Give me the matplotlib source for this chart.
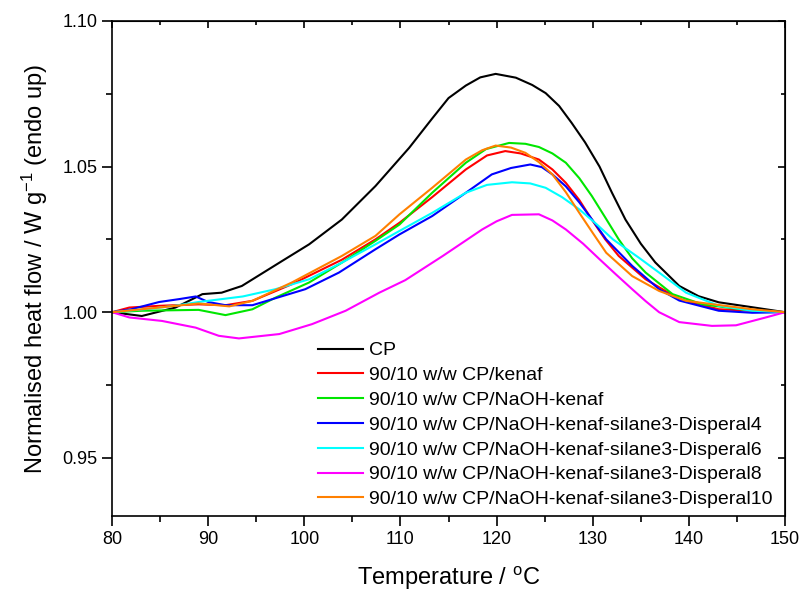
import matplotlib
matplotlib.use("Agg")
import matplotlib.pyplot as plt
from matplotlib.ticker import MultipleLocator

plt.rcParams['font.family'] = ['Liberation Sans', 'DejaVu Sans']
plt.rcParams['mathtext.default'] = 'regular'

# DSC curves (temperature in degC, normalised heat flow)
labels = ["CP",
          "90/10 w/w CP/kenaf",
          "90/10 w/w CP/NaOH-kenaf",
          "90/10 w/w CP/NaOH-kenaf-silane3-Disperal4",
          "90/10 w/w CP/NaOH-kenaf-silane3-Disperal6",
          "90/10 w/w CP/NaOH-kenaf-silane3-Disperal8",
          "90/10 w/w CP/NaOH-kenaf-silane3-Disperal10"]
colors = ["black", "#ff0000", "#00e600", "#0000ff", "#00ffff", "#ff00ff", "#ff8000"]

t_cp = [80, 83.1, 86.6, 89.4, 91.4, 93.5, 97.7, 100.5, 103.9, 107.4, 110.9, 113.3, 115, 116.8,
        118.3, 119.9, 122, 123.7, 125.1, 126.5, 127.8, 129.2, 130.7, 132, 133.4, 135, 136.5,
        139, 141, 143.1, 146.6, 150]
q_cp = [1.000, 0.9987, 1.0016, 1.0062, 1.0067, 1.009, 1.0176, 1.0233, 1.0318, 1.0433, 1.0564,
        1.0665, 1.0735, 1.0778, 1.0806, 1.0818, 1.0805, 1.078, 1.0752, 1.0708, 1.065, 1.0583,
        1.050, 1.041, 1.0318, 1.0235, 1.0171, 1.009, 1.0055, 1.0034, 1.0017, 1.000]

t_kenaf = [80, 81.8, 85, 89, 91.8, 94.6, 98.7, 103.9, 107.4, 109.9, 113.3, 116.8, 119,
           120.9, 122.5, 124.4, 125.8, 127.2, 128.6, 129.9, 131.3, 132.7, 135.5, 139, 143.1,
           146.6, 150]
q_kenaf = [1.000, 1.0016, 1.0022, 1.0027, 1.0024, 1.0039, 1.0096, 1.018, 1.025, 1.0307,
           1.0395, 1.049, 1.0538, 1.0553, 1.0545, 1.0524, 1.049, 1.0444, 1.0385, 1.0318,
           1.025, 1.0193, 1.0113, 1.0045, 1.001, 1.0005, 1.000]

t_naoh = [80, 83.1, 89, 91.8, 94.6, 97, 100.5, 103.9, 107.4, 109.9, 113.3, 116.8, 118.9,
          121.3, 123, 124.4, 125.8, 127.2, 128.6, 129.9, 131.3, 132.7, 134.1, 135.5, 138.3,
          141.4, 146.6, 150]
q_naoh = [1.000, 1.0005, 1.0008, 0.999, 1.001, 1.005, 1.0102, 1.017, 1.0245, 1.0301, 1.041,
          1.0513, 1.056, 1.0581, 1.0578, 1.0567, 1.0545, 1.0513, 1.046, 1.0399, 1.0325,
          1.025, 1.0185, 1.0136, 1.0062, 1.0027, 1.0005, 1.000]

t_d4 = [80, 82, 84.9, 87, 88.7, 90, 91.8, 94.6, 98.4, 100.1, 103.6, 107.4, 109.9, 113.3,
        116.8, 119.5, 121.5, 123.5, 124.7, 125.8, 127.2, 128.6, 130, 131.4, 134.1, 136.9,
        139, 143.1, 146.6, 150]
q_d4 = [1.000, 1.001, 1.0035, 1.0045, 1.0054, 1.0035, 1.0024, 1.0024, 1.0062, 1.0079, 1.0136,
        1.0216, 1.0267, 1.033, 1.041, 1.0473, 1.0495, 1.0507, 1.0498, 1.0473, 1.0432, 1.0377,
        1.0315, 1.025, 1.0159, 1.0079, 1.004, 1.0005, 0.9998, 1.000]

t_d6 = [80, 84, 86.5, 89, 93.6, 97, 100.5, 103.9, 107.4, 109.9, 113.3, 116.8, 119, 121.6,
        123.5, 125.1, 126.8, 128.6, 130.4, 132.1, 134.8, 136.9, 139.7, 143.1, 146.6, 150]
q_d6 = [1.000, 1.0012, 1.0022, 1.0035, 1.0054, 1.0079, 1.0113, 1.017, 1.0233, 1.0279, 1.0341,
        1.041, 1.0437, 1.0446, 1.0442, 1.0427, 1.0395, 1.0353, 1.0302, 1.025, 1.0187, 1.0136,
        1.0067, 1.0022, 1.0005, 1.000]

t_d8 = [80, 81.8, 85.2, 88.7, 91.1, 93.2, 97.4, 100.8, 104.3, 107.8, 110.5, 114.4, 118.5,
        120, 121.6, 123, 124.4, 125.8, 127.2, 129, 130.7, 132.4, 134.1, 135.5, 136.9, 139,
        142.4, 144.9, 148, 150]
q_d8 = [1.000, 0.9982, 0.997, 0.9947, 0.9919, 0.991, 0.9925, 0.9959, 1.0005, 1.0067, 1.011,
        1.0193, 1.0284, 1.0312, 1.0334, 1.0335, 1.0336, 1.0315, 1.0284, 1.0235, 1.0182,
        1.013, 1.0079, 1.0038, 1.000, 0.9966, 0.9953, 0.9955, 0.9982, 1.000]

t_d10 = [80, 84.9, 89, 92.2, 94.6, 98.7, 103.9, 107.4, 109.9, 113.3, 116.8, 118.5, 119.9,
         121.5, 123, 124.4, 125.8, 127.2, 128.6, 130, 131.4, 134.1, 136.9, 139.7, 146.6, 150]
q_d10 = [1.000, 1.0016, 1.003, 1.002, 1.0039, 1.0102, 1.0193, 1.0262, 1.0336, 1.0427, 1.0524,
         1.0556, 1.0572, 1.0565, 1.0547, 1.0515, 1.0473, 1.0412, 1.0341, 1.0272, 1.0204,
         1.0124, 1.0073, 1.0039, 1.001, 1.000]

temps = [t_cp, t_kenaf, t_naoh, t_d4, t_d6, t_d8, t_d10]
flows = [q_cp, q_kenaf, q_naoh, q_d4, q_d6, q_d8, q_d10]

fig = plt.figure(figsize=(8.06, 5.96), dpi=100)
ax = fig.add_axes([0.139, 0.134, 0.835, 0.831])

for t, q, c, lab in zip(temps, flows, colors, labels):
    ax.plot(t, q, color=c, lw=1.5, label=lab)

ax.set_xlim(80, 150)
ax.set_ylim(0.93, 1.10)
ax.xaxis.set_major_locator(MultipleLocator(10))
ax.xaxis.set_minor_locator(MultipleLocator(5))
ax.yaxis.set_major_locator(MultipleLocator(0.05))
ax.yaxis.set_minor_locator(MultipleLocator(0.025))
ax.yaxis.set_major_formatter(plt.FormatStrFormatter('%.2f'))
ax.tick_params(which='major', direction='out', length=7, width=1.2, labelsize=13)
ax.tick_params(which='minor', direction='out', length=4, width=1.2)
for s in ax.spines.values():
    s.set_linewidth(1.2)

# inward ticks on top and right, no labels
top = ax.secondary_xaxis('top')
top.xaxis.set_major_locator(MultipleLocator(10))
top.xaxis.set_minor_locator(MultipleLocator(5))
top.tick_params(which='both', direction='in', labeltop=False, width=1.2)
top.tick_params(which='major', length=5)
top.tick_params(which='minor', length=3)
right = ax.secondary_yaxis('right')
right.yaxis.set_major_locator(MultipleLocator(0.05))
right.yaxis.set_minor_locator(MultipleLocator(0.025))
right.tick_params(which='both', direction='in', labelright=False, width=1.2)
right.tick_params(which='major', length=5)
right.tick_params(which='minor', length=3)

ax.set_xlabel("Temperature / $^{o}$C", fontsize=17, labelpad=12)
ax.set_ylabel("Normalised heat flow / W g$^{-1}$ (endo up)", fontsize=17, labelpad=9)

ax.legend(loc='upper left', bbox_to_anchor=(0.306, 0.352), frameon=False, fontsize=14,
          labelspacing=0.37, handlelength=2.3, handletextpad=0.32, borderpad=0, borderaxespad=0)

fig.savefig("out.png", dpi=100)
